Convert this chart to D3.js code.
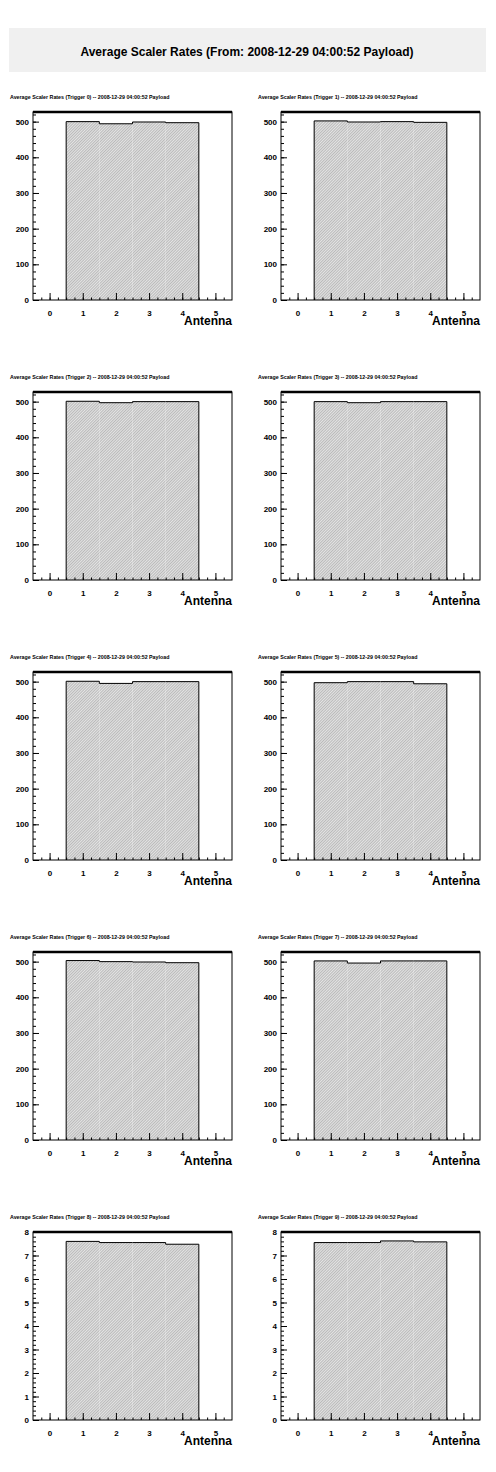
<!DOCTYPE html>
<html><head><meta charset="utf-8">
<script src="https://d3js.org/d3.v7.min.js"></script>
<style>body{margin:0;background:#fff}text{font-family:"Liberation Sans",Arial,sans-serif;font-weight:bold}</style>
</head><body><svg id="c" width="496" height="1472"></svg>
<script>
var mainTitle = "Average Scaler Rates (From: 2008-12-29 04:00:52 Payload)";
var antennas = [1, 2, 3, 4];
var triggers = [0, 1, 2, 3, 4, 5, 6, 7, 8, 9];
var rates = [
  [500, 494, 499, 497],
  [502, 499, 500, 498],
  [501, 497, 500, 500],
  [500, 497, 500, 500],
  [501, 495, 500, 500],
  [497, 500, 500, 494],
  [503, 500, 499, 497],
  [502, 496, 502, 502],
  [7.6, 7.55, 7.55, 7.48],
  [7.55, 7.55, 7.62, 7.58]
];
var yMax = [527, 527, 527, 527, 527, 527, 527, 527, 8, 8];

var svg = d3.select("#c");
var defs = svg.append("defs");
var pat = defs.append("pattern").attr("id", "hatch").attr("patternUnits", "userSpaceOnUse")
  .attr("width", 2).attr("height", 2).attr("patternTransform", "rotate(45)");
pat.append("rect").attr("width", 2).attr("height", 2).attr("fill", "#e4e4e4");
pat.append("line").attr("x1", 0).attr("y1", 0).attr("x2", 0).attr("y2", 2)
  .attr("stroke", "#888").attr("stroke-width", 0.9);

svg.append("rect").attr("x", 9).attr("y", 28).attr("width", 477).attr("height", 44).attr("fill", "#f0f0f0");
svg.append("text").attr("x", 247).attr("y", 56).attr("text-anchor", "middle").attr("font-size", 12).text(mainTitle);

var w = 199, h = 188;
triggers.forEach(function (t, i) {
  var ox = (i % 2) * 248, oy = 88 + Math.floor(i / 2) * 280;
  var g = svg.append("g").attr("transform", `translate(${ox},${oy})`);
  g.append("text").attr("x", 10).attr("y", 11).attr("font-size", 5.3)
    .text(`Average Scaler Rates (Trigger ${t}) -- 2008-12-29 04:00:52 Payload`);
  var p = g.append("g").attr("transform", "translate(33,24)");
  var x = d3.scaleLinear().domain([-0.5, 5.5]).range([0, w]);
  var y = d3.scaleLinear().domain([0, yMax[i]]).range([h, 0]);
  var vals = rates[i];

  p.selectAll("rect.bar").data(vals).enter().append("rect")
    .attr("x", (d, k) => x(antennas[k] - 0.5)).attr("width", x(1) - x(0))
    .attr("y", d => y(d)).attr("height", d => h - y(d)).attr("fill", "url(#hatch)");
  var pts = [[x(0.5), h]];
  vals.forEach((d, k) => { pts.push([x(antennas[k] - 0.5), y(d)]); pts.push([x(antennas[k] + 0.5), y(d)]); });
  pts.push([x(4.5), h]);
  p.append("path").attr("d", d3.line()(pts)).attr("fill", "none").attr("stroke", "#000").attr("stroke-width", 1);

  p.append("rect").attr("width", w).attr("height", h).attr("fill", "none").attr("stroke", "#000").attr("stroke-width", 1);
  p.append("line").attr("x1", 0).attr("x2", w).attr("y1", 0).attr("y2", 0).attr("stroke", "#000").attr("stroke-width", 2.5);

  var xa = p.append("g").attr("transform", `translate(0,${h})`);
  xa.call(d3.axisBottom(x).tickValues(d3.range(-0.25, 5.5, 0.25)).tickSize(-2.5).tickFormat(""));
  xa.call(g2 => g2.append("g").call(d3.axisBottom(x).tickValues(d3.range(0, 6)).tickSize(-7).tickPadding(10).tickFormat(d3.format("d"))));
  var ya = p.append("g");
  var yMaj = yMax[i] > 100 ? 100 : 1;
  ya.call(d3.axisLeft(y).tickValues(d3.range(0, yMax[i], yMaj / 5)).tickSize(-3).tickFormat(""));
  ya.call(g2 => g2.append("g").call(d3.axisLeft(y).tickValues(d3.range(0, yMax[i] + 0.001, yMaj)).tickSize(-6).tickPadding(4).tickFormat(d3.format("d"))));
  p.selectAll(".domain").remove();
  p.selectAll(".tick line").attr("stroke", "#000");
  p.selectAll(".tick text").attr("fill", "#000").attr("font-size", 8).attr("font-weight", "bold").attr("font-family", "Liberation Sans, Arial, sans-serif");
  p.append("text").attr("x", w).attr("y", h + 25).attr("text-anchor", "end").attr("font-size", 12).text("Antenna");
});
</script></body></html>
